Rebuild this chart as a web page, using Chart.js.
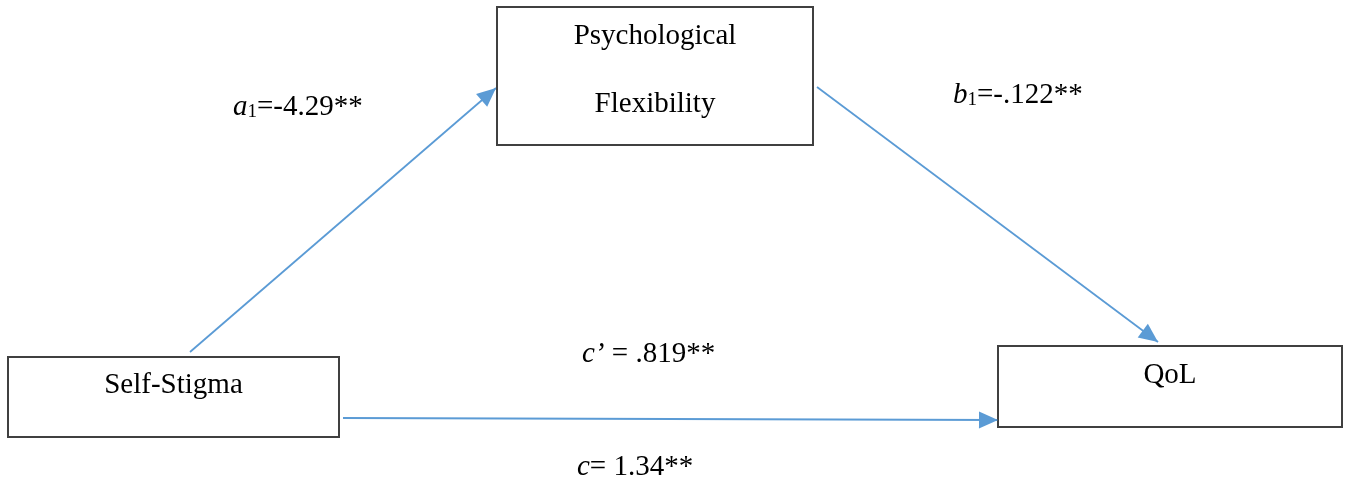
<!DOCTYPE html>
<html>
<head>
<meta charset="utf-8">
<title>Mediation model: Self-Stigma, Psychological Flexibility and QoL</title>
<script src="https://cdn.jsdelivr.net/npm/chart.js@4/dist/chart.umd.min.js"></script>
<style>
  html, body { margin: 0; padding: 0; background: #ffffff; }
  #wrap { width: 1349px; height: 481px; position: relative; }
</style>
</head>
<body>
<div id="wrap"><canvas id="diagram"></canvas></div>
<script>
// Variables in the model (box captions, one line per entry)
const nodeLabels = [
  ['Psychological', 'Flexibility'],
  ['Self-Stigma'],
  ['QoL']
];

// Path coefficients
const pathSymbols = ['a', 'b', 'c\u2019', 'c'];
const pathSubscripts = ['1', '1', '', ''];
const pathValues = [-4.29, -0.122, 0.819, 1.34];
const pathStars = ['**', '**', '**', '**'];
const pathEquals = ['=', '=', ' = ', '= '];

// Layout in diagram units (x: 0..1349, y: 0..481 from top)
const layout = {
  boxes: [
    { l: 497, r: 813, t: 7, b: 145, baselines: [44, 112] },
    { l: 8, r: 339, t: 357, b: 437, baselines: [393] },
    { l: 998, r: 1342, t: 346, b: 427, baselines: [383] }
  ],
  arrows: [
    { from: [190, 352], to: [496, 88] },
    { from: [817, 87], to: [1158, 342] },
    { from: [343, 418], to: [998, 420] }
  ],
  pathLabels: [
    { x: 233, y: 115 },
    { x: 953, y: 103 },
    { x: 582, y: 362 },
    { x: 577, y: 475 }
  ]
};

const BOX_COLOR = '#404040';
const ARROW_COLOR = '#5B9BD5';
const FONT = '"Liberation Serif", "Times New Roman", serif';
const FONT_SIZE = 29;

function fmt(v) {
  let s = Math.abs(v).toString();
  if (s.startsWith('0.')) s = s.slice(1);
  return (v < 0 ? '-' : '') + s;
}

const datasets = [];
layout.boxes.forEach((b, i) => {
  datasets.push({
    label: nodeLabels[i].join(' '),
    kind: 'box',
    data: [
      { x: b.l, y: b.t }, { x: b.r, y: b.t }, { x: b.r, y: b.b },
      { x: b.l, y: b.b }, { x: b.l, y: b.t }
    ],
    showLine: true,
    borderColor: BOX_COLOR,
    borderWidth: 2,
    borderJoinStyle: 'miter',
    borderCapStyle: 'square',
    pointRadius: 0,
    fill: false,
    tension: 0,
    clip: false
  });
});
layout.arrows.forEach((a, i) => {
  datasets.push({
    label: 'path ' + i,
    kind: 'arrow',
    data: [{ x: a.from[0], y: a.from[1] }, { x: a.to[0], y: a.to[1] }],
    showLine: true,
    borderColor: ARROW_COLOR,
    borderWidth: 1.8,
    pointRadius: 0,
    fill: false,
    tension: 0,
    clip: false
  });
});

// Arrowheads and text, positioned through the chart scales
const diagramPlugin = {
  id: 'diagramDecor',
  afterDatasetsDraw(chart) {
    const { ctx, scales } = chart;
    const X = v => scales.x.getPixelForValue(v);
    const Y = v => scales.y.getPixelForValue(v);

    // arrowheads
    chart.data.datasets.forEach(ds => {
      if (ds.kind !== 'arrow') return;
      const p0 = ds.data[0], p1 = ds.data[1];
      const x0 = X(p0.x), y0 = Y(p0.y), x1 = X(p1.x), y1 = Y(p1.y);
      const ang = Math.atan2(y1 - y0, x1 - x0);
      const len = 19, half = 8.5;
      ctx.save();
      ctx.fillStyle = ARROW_COLOR;
      ctx.beginPath();
      ctx.moveTo(x1, y1);
      ctx.lineTo(x1 - len * Math.cos(ang) + half * Math.sin(ang),
                 y1 - len * Math.sin(ang) - half * Math.cos(ang));
      ctx.lineTo(x1 - len * Math.cos(ang) - half * Math.sin(ang),
                 y1 - len * Math.sin(ang) + half * Math.cos(ang));
      ctx.closePath();
      ctx.fill();
      ctx.restore();
    });

    // box captions
    ctx.save();
    ctx.fillStyle = '#000000';
    ctx.textAlign = 'center';
    ctx.textBaseline = 'alphabetic';
    ctx.font = FONT_SIZE + 'px ' + FONT;
    layout.boxes.forEach((b, i) => {
      const cx = X((b.l + b.r) / 2);
      nodeLabels[i].forEach((line, k) => ctx.fillText(line, cx, Y(b.baselines[k])));
    });
    ctx.restore();

    // path coefficient labels
    ctx.save();
    ctx.fillStyle = '#000000';
    ctx.textAlign = 'left';
    ctx.textBaseline = 'alphabetic';
    pathValues.forEach((v, i) => {
      let x = X(layout.pathLabels[i].x);
      const y = Y(layout.pathLabels[i].y);
      ctx.font = 'italic ' + FONT_SIZE + 'px ' + FONT;
      ctx.fillText(pathSymbols[i], x, y);
      x += ctx.measureText(pathSymbols[i]).width;
      if (pathSubscripts[i]) {
        ctx.font = Math.round(FONT_SIZE * 0.66) + 'px ' + FONT;
        ctx.fillText(pathSubscripts[i], x, y + 2);
        x += ctx.measureText(pathSubscripts[i]).width;
      }
      ctx.font = FONT_SIZE + 'px ' + FONT;
      const rest = pathEquals[i] + fmt(v) + pathStars[i];
      ctx.fillText(rest, x, y);
    });
    ctx.restore();
  }
};

new Chart(document.getElementById('diagram'), {
  type: 'scatter',
  data: { datasets },
  options: {
    responsive: true,
    maintainAspectRatio: false,
    animation: false,
    events: [],
    layout: { padding: 0 },
    plugins: { legend: { display: false }, tooltip: { enabled: false } },
    scales: {
      x: { type: 'linear', min: 0, max: 1349, display: false },
      y: { type: 'linear', min: 0, max: 481, reverse: true, display: false }
    }
  },
  plugins: [diagramPlugin]
});
</script>
</body>
</html>
